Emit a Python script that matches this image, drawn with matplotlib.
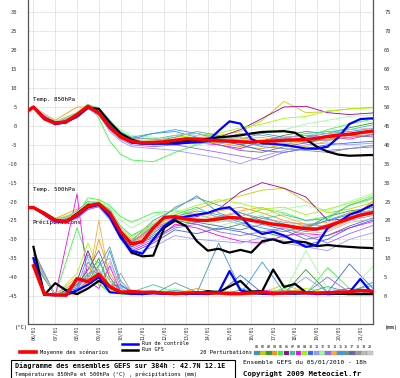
import numpy as np
import matplotlib
matplotlib.use('Agg')
import matplotlib.pyplot as plt
from matplotlib.lines import Line2D
from matplotlib.patches import Rectangle

nan = np.nan

# time axis: hours after 05/01/2010 18h
hours_main = [0, 6, 18, 30, 42, 54, 66, 78, 90, 102, 114, 126, 138, 150, 162, 174, 186, 198,
              210, 222, 234, 246, 258, 270, 282, 294, 306, 318, 330, 342, 354, 366, 378, 384]
hours_pert = [0, 6, 30, 54, 66, 78, 90, 102, 114, 138, 162, 186, 210, 234, 258, 282, 306, 330, 354, 384]

day_labels = ['06/01', '07/01', '08/01', '09/01', '10/01', '11/01', '12/01', '13/01',
              '14/01', '15/01', '16/01', '17/01', '18/01', '19/01', '20/01', '21/01']

# ---- 850 hPa temperature (deg C)
t850_mean = [4.0, 5.0, 1.9, 0.7, 1.1, 3.0, 5.2, 3.4, -0.3, -2.9, -4.1, -4.5, -4.4, -4.2, -3.8, -3.4, -3.5,
             -3.8, -3.9, -4.0, -4.2, -4.3, -4.1, -4.0, -3.8, -3.7, -3.6, -3.3, -2.8, -2.4, -2.2, -1.8, -1.4, -1.3]
t850_ctrl = [4.0, 5.0, 1.8, 0.5, 0.9, 2.8, 5.0, 3.6, 0.0, -2.8, -4.4, -4.7, -4.7, -4.6, -4.7, -4.5, -4.3,
             -4.0, -1.3, 1.2, 0.6, -3.5, -4.6, -4.8, -5.0, -5.5, -6.0, -6.0, -5.5, -3.0, 0.5, 1.8, 2.0, 1.9]
t850_gfs = [4.0, 5.0, 2.1, 0.9, 1.0, 2.6, 4.8, 4.5, 1.0, -2.0, -3.6, -4.5, -4.5, -4.6, -4.4, -4.0, -3.8,
            -3.4, -3.0, -2.8, -2.5, -2.0, -1.6, -1.5, -1.4, -1.8, -3.5, -5.5, -6.8, -7.6, -7.9, -7.8, -7.7, -7.8]

t850_pert = [
    [4.0, 4.9, 0.6, 2.5, 5.0, 4.2, 0.5, -2.0, -3.0, -2.0, -1.5, -3.0, -4.5, -3.5, -2.0, -3.0, -4.5, -3.5, -2.0, -1.0],
    [4.0, 5.0, 1.0, 3.0, 5.3, 3.8, -0.5, -3.0, -4.0, -4.5, -4.0, -3.2, -2.5, -1.5, 1.5, 6.5, 3.5, 3.8, 4.5, 5.0],
    [4.0, 5.1, 0.9, 3.2, 5.5, 4.5, 1.0, -2.5, -4.2, -4.8, -4.5, -3.0, -3.5, -5.0, -4.0, -2.5, -1.5, -2.0, -0.5, 1.0],
    [4.0, 4.8, 1.5, 5.0, 5.0, 3.0, -1.0, -3.5, -4.5, -4.0, -3.5, -4.0, -4.5, -5.5, -6.0, -5.0, -4.0, -3.5, -3.0, -2.5],
    [4.0, 5.0, 0.7, 2.8, 5.8, 2.0, -4.0, -7.5, -9.0, -9.5, -7.0, -5.0, -3.5, -3.0, -4.5, -5.0, -3.0, -1.0, 0.5, 2.0],
    [4.0, 5.1, 0.5, 2.6, 5.2, 3.6, 0.0, -2.5, -4.0, -4.5, -5.0, -4.0, -3.0, -1.0, 2.0, 5.0, 5.2, 3.5, 3.0, 3.5],
    [4.0, 4.9, 1.1, 3.5, 5.6, 4.8, 1.5, -1.5, -3.0, -3.5, -2.5, -2.0, -3.0, -4.0, -4.5, -3.5, -2.0, -1.5, -1.0, 0.5],
    [4.0, 5.0, 0.2, 2.2, 4.8, 3.2, -0.5, -3.0, -4.5, -5.0, -4.0, -4.5, -5.0, -6.0, -4.0, -3.0, -2.5, -3.0, -3.5, -2.0],
    [4.0, 5.0, 0.9, 3.4, 5.4, 4.0, 0.5, -2.0, -3.5, -4.0, -3.0, -2.5, -2.0, -0.5, 0.5, 2.0, 2.5, 4.0, 4.5, 4.8],
    [4.0, 5.0, 0.6, 2.9, 5.1, 3.4, -0.8, -3.2, -4.6, -5.0, -4.8, -4.5, -4.0, -5.0, -6.5, -7.0, -6.0, -5.0, -4.5, -4.0],
    [4.0, 4.8, 0.4, 2.4, 4.6, 3.0, -1.5, -4.0, -5.5, -6.0, -6.5, -7.5, -8.5, -10.0, -8.0, -6.5, -5.0, -4.5, -5.0, -4.5],
    [4.0, 5.0, 1.2, 3.6, 5.7, 4.6, 1.2, -1.0, -2.5, -3.0, -4.0, -5.0, -4.0, -2.5, -1.5, -1.0, 0.5, 1.5, 2.5, 3.0],
    [4.0, 4.9, 0.3, 2.0, 4.5, 2.8, -1.0, -3.5, -5.0, -5.5, -5.0, -6.0, -7.0, -8.0, -9.0, -7.0, -6.0, -6.5, -6.0, -5.5],
    [4.0, 5.2, 1.0, 3.1, 5.3, 4.3, 0.8, -2.2, -3.8, -4.0, -3.5, -3.8, -4.2, -3.5, -3.0, -4.5, -5.5, -4.0, -2.5, -1.5],
    [4.0, 5.0, 0.8, 2.7, 5.0, 3.6, -0.2, -2.5, -3.5, -2.0, -1.0, -2.0, -3.5, -4.5, -5.0, -4.0, -3.0, -2.0, -1.5, -0.5],
    [4.0, 5.0, 0.9, 3.0, 5.4, 4.0, 0.2, -2.4, -3.9, -4.2, -3.0, -1.5, -2.5, -4.0, -5.5, -6.0, -6.5, -7.0, -6.0, -5.0],
    [4.0, 4.9, 0.7, 2.6, 4.9, 3.1, -0.6, -3.0, -4.4, -4.6, -4.2, -3.5, -5.0, -6.5, -7.0, -5.5, -4.5, -3.0, -2.5, -3.0],
    [4.0, 5.0, 1.0, 3.3, 5.5, 4.4, 0.9, -1.8, -3.2, -3.5, -3.8, -4.2, -3.5, -2.0, -2.5, -3.5, -4.0, -3.8, -3.0, -2.0],
    [4.0, 5.1, 0.8, 2.9, 5.2, 3.8, 0.1, -2.6, -4.0, -4.3, -2.5, -2.0, -3.0, -3.8, -4.5, -3.0, -2.5, -2.0, -1.0, -0.5],
    [4.0, 5.0, 1.1, 3.2, 5.4, 4.1, 0.4, -2.3, -3.7, -4.1, -3.6, -3.0, -2.8, -3.5, -4.0, -4.5, -3.5, -2.5, -2.0, -1.5],
]

# ---- 500 hPa temperature (deg C)
t500_mean = [-21.6, -21.6, -23.2, -25.0, -25.3, -23.5, -21.2, -20.6, -23.0, -28.0, -31.2, -30.6, -27.0, -24.2,
             -24.0, -24.6, -25.0, -25.0, -24.6, -24.2, -24.4, -25.0, -25.5, -26.0, -26.3, -26.8, -27.2, -27.3,
             -26.5, -25.5, -24.5, -23.6, -23.0, -22.8]
t500_ctrl = [-21.6, -21.6, -23.4, -25.2, -25.5, -23.8, -21.5, -20.8, -24.0, -29.5, -33.0, -33.8, -30.0, -26.5,
             -24.5, -24.0, -23.5, -23.0, -22.0, -21.5, -24.0, -27.0, -28.6, -28.0, -29.0, -30.5, -32.0, -31.5,
             -27.0, -25.5, -23.5, -22.5, -21.0, -20.6]
t500_gfs = [-21.6, -21.6, -23.0, -24.8, -25.4, -23.2, -21.0, -20.8, -23.5, -29.0, -33.5, -34.5, -34.3, -27.0,
            -25.0, -26.5, -30.5, -33.0, -32.5, -33.5, -32.8, -33.5, -30.5, -30.0, -31.0, -30.5, -30.8, -31.8,
            -31.5, -31.8, -32.0, -32.2, -32.3, -32.5]

t500_pert = [
    [-21.6, -21.5, -25.5, -22.5, -20.0, -20.5, -24.0, -29.0, -30.5, -25.0, -22.0, -18.5, -23.0, -25.0, -24.0, -26.0, -27.0, -25.0, -23.0, -21.0],
    [-21.6, -21.7, -24.8, -23.8, -21.5, -20.0, -22.5, -27.5, -30.0, -26.5, -24.0, -22.0, -20.0, -18.5, -17.0, -16.5, -20.0, -23.0, -22.0, -20.0],
    [-21.6, -21.6, -25.2, -23.0, -20.5, -21.0, -24.5, -29.5, -32.0, -29.0, -25.0, -26.0, -27.5, -26.0, -28.0, -29.5, -27.0, -24.0, -22.5, -21.5],
    [-21.6, -21.5, -24.5, -22.0, -20.8, -21.5, -23.5, -28.5, -31.5, -28.0, -25.5, -24.0, -22.5, -21.5, -23.0, -25.0, -26.5, -27.5, -25.0, -19.0],
    [-21.6, -21.6, -25.0, -23.5, -19.0, -19.5, -21.0, -24.0, -25.5, -23.0, -22.5, -23.5, -25.0, -24.0, -22.0, -23.0, -25.0, -24.0, -21.0, -19.0],
    [-21.6, -21.7, -25.3, -24.0, -21.8, -20.8, -23.0, -28.0, -31.0, -27.5, -25.0, -24.0, -22.0, -17.5, -15.0, -16.5, -18.8, -25.0, -24.5, -23.0],
    [-21.6, -21.6, -24.6, -23.2, -21.0, -20.2, -22.0, -26.5, -29.0, -26.0, -23.5, -21.5, -24.5, -26.0, -24.5, -23.5, -25.0, -24.5, -21.0, -18.5],
    [-21.6, -21.5, -25.8, -24.5, -22.0, -21.0, -24.0, -29.0, -33.0, -30.5, -26.0, -27.0, -29.0, -30.5, -31.0, -29.0, -28.5, -29.0, -27.0, -25.0],
    [-21.6, -21.6, -24.9, -23.0, -20.3, -19.8, -22.5, -27.0, -29.5, -25.5, -23.0, -21.0, -19.5, -20.5, -22.0, -21.5, -23.5, -22.0, -20.5, -18.0],
    [-21.6, -21.7, -25.1, -23.6, -21.3, -21.2, -24.2, -29.8, -33.5, -31.0, -27.5, -28.5, -27.0, -28.0, -29.5, -30.5, -31.5, -30.0, -27.0, -24.5],
    [-21.6, -21.6, -25.4, -24.2, -21.9, -21.5, -24.8, -30.0, -34.0, -32.0, -29.0, -30.0, -30.5, -31.0, -29.5, -31.0, -32.0, -33.0, -30.0, -28.0],
    [-21.6, -21.5, -24.7, -22.8, -20.2, -20.0, -21.5, -25.0, -27.0, -24.0, -22.0, -24.5, -26.5, -25.0, -23.5, -22.0, -21.0, -22.5, -20.0, -17.5],
    [-21.6, -21.6, -25.6, -24.3, -22.2, -21.3, -24.5, -29.5, -32.5, -30.0, -27.0, -26.0, -28.0, -29.0, -28.0, -27.0, -29.0, -31.0, -28.5, -26.0],
    [-21.6, -21.7, -24.8, -23.4, -21.0, -20.6, -23.2, -28.2, -31.0, -27.0, -24.5, -23.0, -24.0, -22.5, -21.5, -24.0, -26.0, -25.5, -23.0, -21.0],
    [-21.6, -21.6, -25.0, -23.7, -21.4, -20.9, -23.8, -29.0, -32.0, -28.5, -24.0, -22.5, -23.5, -25.5, -27.0, -28.0, -26.5, -25.0, -23.5, -22.0],
    [-21.6, -21.5, -25.2, -23.3, -20.9, -20.4, -22.8, -27.8, -30.8, -26.5, -21.5, -19.0, -21.0, -23.0, -25.0, -26.5, -28.0, -27.0, -24.0, -22.5],
    [-21.6, -21.6, -25.3, -24.1, -21.7, -21.1, -23.5, -28.8, -32.0, -29.5, -26.5, -25.5, -26.5, -27.5, -26.0, -27.5, -30.0, -29.0, -26.5, -24.0],
    [-21.6, -21.6, -24.9, -23.5, -21.1, -20.7, -23.1, -28.0, -30.5, -27.0, -24.8, -25.5, -24.0, -23.0, -24.5, -25.5, -26.0, -26.5, -25.0, -23.5],
    [-21.6, -21.7, -25.0, -23.6, -21.2, -20.5, -22.9, -27.5, -30.0, -26.0, -23.5, -24.5, -25.5, -24.5, -25.5, -27.0, -28.5, -28.0, -25.5, -24.5],
    [-21.6, -21.6, -25.1, -23.4, -21.0, -20.7, -23.3, -28.3, -31.2, -27.5, -25.5, -23.5, -24.5, -26.0, -26.5, -25.0, -27.5, -26.0, -24.0, -22.0],
]

# ---- precipitation (mm), right-hand scale (0 mm sits on -45 of the left scale)
rr_mean = [nan, 8.0, 0.5, 0.3, 0.2, 4.6, 3.8, 5.8, 2.5, 1.0, 1.2, 1.0, 1.0, 0.8, 0.7, 0.8, 0.9, 0.8,
           0.8, 0.6, 0.6, 0.8, 1.0, 0.7, 0.8, 1.0, 0.9, 0.8, 0.9, 1.0, 1.1, 1.5, 1.3, 1.2]
rr_ctrl = [nan, 10.0, 0.3, 0.2, 0.3, 1.5, 3.0, 5.0, 1.0, 0.8, 0.6, 0.5, 0.8, 0.6, 0.5, 0.7, 0.6, 0.5,
           1.0, 6.6, 1.5, 0.8, 0.6, 0.5, 0.7, 0.6, 0.8, 0.5, 0.6, 0.8, 1.0, 4.5, 1.0, 0.8]
rr_gfs = [nan, 13.0, 0.3, 3.4, 1.5, 0.5, 2.0, 4.0, 2.5, 1.0, 0.8, 0.9, 1.0, 0.6, 0.8, 0.5, 0.7, 1.3,
          1.0, 2.5, 4.0, 1.2, 1.3, 7.0, 2.4, 3.2, 1.0, 0.8, 0.5, 0.6, 0.5, 0.5, 0.5, 0.5]

rr_pert = [
    [nan, 10, 0.2, 2.0, 6.0, 4.0, 12.0, 3.0, 1.0, 0.5, 1.5, 0.8, 14.0, 2.0, 0.5, 1.0, 0.8, 2.5, 1.0, 0.5],
    [nan, 11, 0.1, 1.0, 8.0, 3.0, 1.5, 2.0, 0.5, 1.0, 0.3, 0.5, 1.0, 0.5, 0.8, 3.0, 1.0, 0.5, 0.8, 1.0],
    [nan, 9, 0.3, 3.0, 5.0, 10.0, 2.0, 1.0, 0.8, 0.4, 0.6, 1.0, 0.5, 1.5, 0.8, 0.5, 7.0, 1.0, 0.8, 1.5],
    [nan, 10, 0.0, 0.5, 4.0, 15.0, 6.0, 1.5, 0.5, 0.3, 0.5, 2.0, 0.8, 0.4, 1.0, 0.8, 0.5, 1.2, 0.8, 0.6],
    [nan, 12, 0.2, 18.0, 10.0, 3.0, 1.0, 0.5, 0.3, 0.5, 0.8, 0.4, 0.6, 0.5, 0.5, 2.0, 0.5, 7.5, 2.0, 1.0],
    [nan, 10, 0.1, 4.0, 12.0, 5.0, 2.0, 0.8, 0.5, 0.6, 0.4, 0.5, 1.0, 0.5, 0.6, 1.5, 0.8, 0.5, 0.6, 1.0],
    [nan, 11, 0.3, 2.5, 7.0, 9.0, 4.0, 2.0, 1.0, 3.0, 1.0, 0.5, 1.5, 0.8, 0.5, 0.6, 1.0, 0.5, 1.5, 3.0],
    [nan, 10, 0.0, 27.0, 4.0, 2.0, 8.0, 1.0, 0.5, 0.4, 0.5, 0.6, 0.5, 0.8, 1.5, 1.0, 0.5, 0.8, 0.5, 0.5],
    [nan, 9, 0.2, 6.0, 14.0, 7.0, 3.0, 1.0, 0.8, 0.5, 0.6, 0.5, 0.8, 0.5, 0.5, 1.0, 2.0, 1.0, 0.6, 0.8],
    [nan, 10, 0.1, 1.5, 3.0, 6.0, 2.5, 3.0, 1.0, 0.5, 0.5, 1.0, 0.6, 5.5, 0.8, 0.5, 0.8, 1.0, 8.5, 1.0],
    [nan, 11, 0.2, 2.0, 5.0, 8.0, 10.0, 2.0, 0.8, 0.6, 0.5, 0.5, 1.0, 0.8, 0.5, 1.0, 5.0, 1.0, 0.5, 0.5],
    [nan, 10, 0.4, 3.5, 6.0, 4.0, 1.0, 0.5, 0.5, 1.0, 2.0, 0.5, 0.8, 1.0, 0.6, 0.8, 12.0, 2.0, 1.0, 9.0],
    [nan, 12, 0.1, 1.0, 9.0, 5.0, 2.0, 1.5, 0.6, 0.5, 0.4, 0.8, 0.5, 0.6, 1.0, 0.5, 0.8, 5.0, 1.0, 0.8],
    [nan, 10, 0.2, 5.0, 3.0, 20.0, 4.0, 1.0, 0.5, 0.5, 0.8, 0.6, 0.5, 1.0, 0.5, 1.5, 0.5, 0.8, 0.6, 0.5],
    [nan, 9, 0.3, 2.0, 11.0, 6.0, 3.0, 2.5, 1.5, 0.8, 0.5, 1.0, 0.8, 0.5, 9.0, 1.0, 0.6, 0.5, 1.0, 4.0],
    [nan, 11, 0.1, 1.5, 4.0, 8.0, 13.0, 4.0, 1.0, 0.5, 3.5, 1.0, 0.5, 0.8, 0.6, 0.5, 1.0, 0.8, 0.5, 0.8],
    [nan, 10, 0.2, 3.0, 7.0, 12.0, 5.0, 1.0, 0.5, 0.6, 0.5, 0.8, 1.0, 0.5, 0.8, 0.6, 0.5, 1.0, 2.0, 0.6],
    [nan, 10, 0.0, 2.5, 6.0, 7.0, 2.0, 6.0, 1.0, 0.5, 0.6, 0.5, 0.8, 0.6, 0.5, 0.8, 1.0, 0.5, 0.8, 1.0],
    [nan, 11, 0.2, 1.0, 5.0, 4.0, 9.0, 2.0, 0.8, 1.5, 0.5, 0.6, 0.5, 1.0, 0.8, 0.5, 0.6, 0.8, 0.5, 0.6],
    [nan, 10, 0.1, 4.0, 8.0, 6.0, 3.0, 1.0, 0.6, 0.5, 0.8, 0.5, 0.6, 0.8, 0.5, 1.0, 0.6, 0.5, 0.8, 0.5],
]

pert_colors = ['#3399cc', '#cccc00', '#339933', '#ff9900', '#33ff33', '#990099', '#33cc99',
               '#ff00ff', '#99ff00', '#3366ff', '#9999ff', '#99ff99', '#9966ff', '#ffaa33',
               '#3399ff', '#669999', '#6666aa', '#999999', '#bbbbbb', '#cccccc']

RR_OFFSET = 45  # precip 0 mm drawn at -45 on the temperature scale
mono = 'DejaVu Sans Mono'

fig = plt.figure(figsize=(4, 3.78), dpi=100)
ax = fig.add_axes([28 / 400, 1 - 324 / 378, 345 / 400, 324 / 378])
ax.set_xlim(0, 380)
ax.set_ylim(-52.4, 33.3)

# perturbations
for i in range(20):
    c = pert_colors[i]
    ax.plot(hours_pert, t850_pert[i], color=c, lw=0.6, zorder=2)
    ax.plot(hours_pert, t500_pert[i], color=c, lw=0.6, zorder=2)
    ax.plot(hours_pert, np.array(rr_pert[i]) - RR_OFFSET, color=c, lw=0.6, zorder=2)

# GFS run, control run, ensemble mean
ax.plot(hours_main, t850_gfs, color='black', lw=1.6, zorder=3)
ax.plot(hours_main, t500_gfs, color='black', lw=1.6, zorder=3)
ax.plot(hours_main, np.array(rr_gfs) - RR_OFFSET, color='black', lw=1.6, zorder=3)
ax.plot(hours_main, t850_ctrl, color='#0000ff', lw=1.6, zorder=4)
ax.plot(hours_main, t500_ctrl, color='#0000ff', lw=1.6, zorder=4)
ax.plot(hours_main, np.array(rr_ctrl) - RR_OFFSET, color='#0000ff', lw=1.6, zorder=4)
ax.plot(hours_main, t850_mean, color='#ff0000', lw=2.4, zorder=5)
ax.plot(hours_main, t500_mean, color='#ff0000', lw=2.4, zorder=5)
ax.plot(hours_main, np.array(rr_mean) - RR_OFFSET, color='#ff0000', lw=2.4, zorder=5)

ax.text(5, 6.9, 'Temp. 850hPa', fontsize=4.2, family=mono, va='center', zorder=1)
ax.text(5, -16.9, 'Temp. 500hPa', fontsize=4.2, family=mono, va='center', zorder=1)
ax.text(5, -25.4, 'Précipitations', fontsize=4.2, family=mono, va='center', zorder=1)

# axes, ticks and grid
day_ticks = [6 + 24 * k for k in range(len(day_labels))]
ax.set_xticks(day_ticks)
ax.set_xticklabels(day_labels, rotation=90, fontsize=3.5, family=mono)
ax.set_yticks(range(-45, 31, 5))
ax.set_yticklabels([str(v) for v in range(-45, 31, 5)], fontsize=3.9, family=mono)
ax.tick_params(axis='both', length=0, colors='#333333')
ax.tick_params(axis='y', pad=8)
ax.tick_params(axis='x', pad=1)
ax.grid(True, color='#c8c8c8', lw=0.6, linestyle=(0, (1, 1)), zorder=0)
ax.set_axisbelow(True)
for s in ['left', 'right', 'bottom']:
    ax.spines[s].set_color('#555555')
    ax.spines[s].set_linewidth(0.9)
ax.spines['top'].set_visible(False)

sec = ax.secondary_yaxis('right', functions=(lambda v: v + RR_OFFSET, lambda v: v - RR_OFFSET))
sec.set_yticks(range(0, 76, 5))
sec.set_yticklabels([str(v) for v in range(0, 76, 5)], fontsize=3.9, family=mono)
sec.tick_params(length=0, pad=8, colors='#333333')
sec.spines['right'].set_visible(False)

fig.text(15 / 400, 1 - 328 / 378, '(°C)', fontsize=3.9, family=mono, va='center', ha='left')
fig.text(385 / 400, 1 - 328 / 378, '(mm)', fontsize=3.9, family=mono, va='center', ha='left')


# legend
def fx(px):
    return px / 400


def fy(py):
    return 1 - py / 378


fig.add_artist(Line2D([fx(20), fx(36)], [fy(352), fy(352)], color='#ff0000', lw=2.6))
fig.text(fx(40), fy(352), 'Moyenne des scénarios', fontsize=3.9, family=mono, va='center')
fig.add_artist(Line2D([fx(122), fx(138)], [fy(343.5), fy(343.5)], color='#0000ff', lw=1.8))
fig.text(fx(142), fy(343.5), 'Run de contrôle', fontsize=3.7, family=mono, va='center')
fig.add_artist(Line2D([fx(122), fx(138)], [fy(349.5), fy(349.5)], color='black', lw=1.8))
fig.text(fx(142), fy(349.5), 'Run GFS', fontsize=3.7, family=mono, va='center')
fig.text(fx(200), fy(352), '20 Perturbations', fontsize=3.9, family=mono, va='center')
for i, c in enumerate(pert_colors):
    x0 = 254 + i * 5.95
    fig.add_artist(Rectangle((fx(x0), fy(355)), 5.6 / 400, 4 / 378, facecolor=c,
                             edgecolor='#888888', lw=0.2))
    fig.text(fx(x0 + 2.8), fy(347.5), '%02d' % (i + 1), fontsize=2.4, family=mono,
             ha='center', va='center')

# title box
fig.add_artist(Rectangle((fx(11), fy(380)), 224 / 400, 20 / 378, facecolor='white',
                         edgecolor='black', lw=0.8))
fig.text(fx(15), fy(365.5), 'Diagramme des ensembles GEFS sur 384h : 42.7N 12.1E',
         fontsize=4.9, family=mono, weight='bold', va='center')
fig.text(fx(15), fy(374), 'Températures 850hPa et 500hPa (°C) , précipitations (mm)',
         fontsize=3.9, family=mono, va='center')
fig.text(fx(243), fy(362), 'Ensemble GEFS du 05/01/2010 - 18h', fontsize=4.4, family=mono, va='center')
fig.text(fx(243), fy(374), 'Copyright 2009 Meteociel.fr', fontsize=5.2, family=mono,
         weight='bold', va='center')

fig.savefig('out.png', dpi=100)
